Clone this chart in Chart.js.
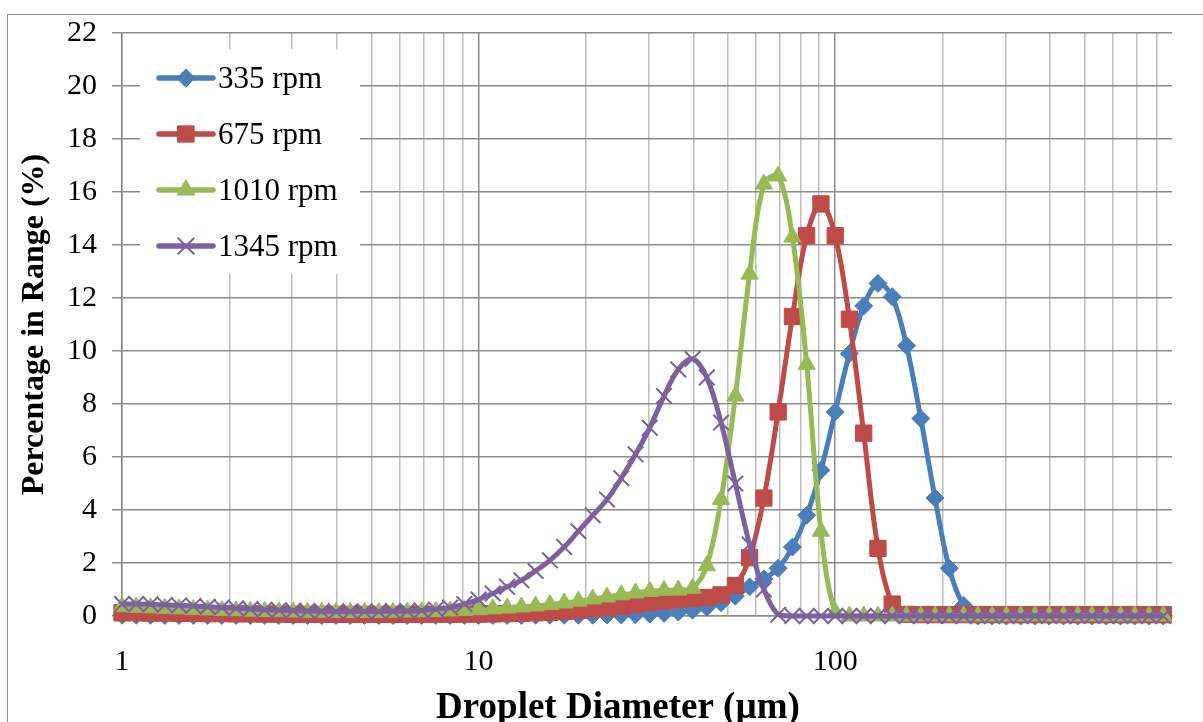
<!DOCTYPE html>
<html>
<head>
<meta charset="utf-8">
<script src="https://cdn.jsdelivr.net/npm/chart.js@4.4.1/dist/chart.umd.min.js"></script>
<style>
  html, body { margin: 0; padding: 0; background: #fff; overflow: hidden; }
  #frame { position: absolute; left: 7px; top: 14px; width: 1300px; height: 800px; border: 1.5px solid #8a8a8a; }
  #wrap { position: absolute; left: 0; top: 0; width: 1203px; height: 722px; }
</style>
</head>
<body>
<div id="frame"></div>
<div id="wrap"><canvas id="chart" width="1203" height="722"></canvas></div>
<script>
// droplet size bins (µm), log spaced
const diameters = [1.000, 1.096, 1.202, 1.318, 1.445, 1.585, 1.738, 1.905, 2.089, 2.291,
  2.512, 2.754, 3.020, 3.311, 3.631, 3.981, 4.365, 4.786, 5.248, 5.754,
  6.310, 6.918, 7.586, 8.318, 9.120, 10.00, 10.96, 12.02, 13.18, 14.45,
  15.85, 17.38, 19.05, 20.89, 22.91, 25.12, 27.54, 30.20, 33.11, 36.31,
  39.81, 43.65, 47.86, 52.48, 57.54, 63.10, 69.18, 75.86, 83.18, 91.20,
  100.0, 109.6, 120.2, 131.8, 144.5, 158.5, 173.8, 190.5, 208.9, 229.1,
  251.2, 275.4, 302.0, 331.1, 363.1, 398.1, 436.5, 478.6, 524.8, 575.4,
  631.0, 691.8, 758.6, 831.8];

const rpm335 = [0.03, 0.03, 0.03, 0.02, 0.02, 0.02, 0.02, 0.02, 0.02, 0.02,
  0.02, 0.02, 0.02, 0.02, 0.02, 0.02, 0.02, 0.02, 0.02, 0.02,
  0.02, 0.02, 0.02, 0.02, 0.02, 0.02, 0.02, 0.02, 0.02, 0.03,
  0.03, 0.03, 0.03, 0.03, 0.04, 0.04, 0.05, 0.07, 0.10, 0.15,
  0.22, 0.33, 0.50, 0.75, 1.10, 1.40, 1.80, 2.60, 3.80, 5.50,
  7.70, 9.90, 11.70, 12.55, 12.05, 10.20, 7.45, 4.45, 1.80, 0.40,
  0, 0, 0, 0, 0, 0, 0, 0, 0, 0,
  0, 0, 0, 0];

const rpm675 = [0.12, 0.12, 0.11, 0.11, 0.10, 0.10, 0.09, 0.09, 0.08, 0.08,
  0.07, 0.07, 0.06, 0.06, 0.06, 0.06, 0.06, 0.06, 0.06, 0.06,
  0.06, 0.06, 0.06, 0.06, 0.07, 0.07, 0.08, 0.09, 0.10, 0.12,
  0.14, 0.17, 0.21, 0.26, 0.31, 0.37, 0.43, 0.50, 0.56, 0.62,
  0.66, 0.70, 0.80, 1.15, 2.20, 4.45, 7.70, 11.30, 14.35, 15.55,
  14.35, 11.20, 6.90, 2.55, 0.45, 0.06, 0.05, 0.05, 0.05, 0.05,
  0.05, 0.05, 0.05, 0.05, 0.05, 0.05, 0.05, 0.05, 0.05, 0.05,
  0.05, 0.05, 0.05, 0.05];

const rpm1010 = [0.35, 0.33, 0.31, 0.29, 0.27, 0.25, 0.23, 0.21, 0.20, 0.18,
  0.17, 0.16, 0.15, 0.14, 0.14, 0.13, 0.13, 0.13, 0.13, 0.14,
  0.15, 0.16, 0.17, 0.19, 0.21, 0.24, 0.27, 0.30, 0.34, 0.38,
  0.43, 0.49, 0.56, 0.64, 0.72, 0.80, 0.87, 0.93, 0.97, 0.98,
  1.05, 1.90, 4.40, 8.30, 12.90, 16.30, 16.60, 14.30, 9.50, 3.20,
  0.15, 0, 0, 0, 0, 0, 0, 0, 0, 0,
  0, 0, 0, 0, 0, 0, 0, 0, 0, 0,
  0, 0, 0, 0];

const rpm1345 = [0.45, 0.45, 0.44, 0.42, 0.40, 0.38, 0.35, 0.32, 0.29, 0.26,
  0.24, 0.22, 0.20, 0.19, 0.18, 0.17, 0.17, 0.17, 0.17, 0.18,
  0.19, 0.21, 0.25, 0.32, 0.45, 0.62, 0.85, 1.10, 1.35, 1.70,
  2.10, 2.60, 3.20, 3.80, 4.40, 5.20, 6.10, 7.10, 8.30, 9.30,
  9.70, 9.00, 7.30, 5.00, 2.70, 1.00, 0.05, 0, 0, 0,
  0, 0, 0, 0, 0, 0, 0, 0, 0, 0,
  0, 0, 0, 0, 0, 0, 0, 0, 0, 0,
  0, 0, 0, 0];

const seriesNames = ["335 rpm", "675 rpm", "1010 rpm", "1345 rpm"];
const seriesColors = ["#4A7EBB", "#BE4B48", "#98B954", "#7D60A0"];
const seriesMarkers = ["rectRot", "rect", "triangle", "crossRot"];
const seriesRadius = [9, 11.5, 10, 11];

// x gridlines 1..9, 10..90, 100..800; labels only at decades
const xGridValues = [1, 2, 3, 4, 5, 6, 7, 8, 9, 10, 20, 30, 40, 50, 60, 70, 80, 90,
  100, 200, 300, 400, 500, 600, 700, 800];
const xLabelValues = [1, 10, 100];

const serif = "'Liberation Serif', 'Times New Roman', serif";

function toPoints(values) {
  return diameters.map((d, i) => ({ x: d, y: values[i] }));
}

const allSeries = [rpm335, rpm675, rpm1010, rpm1345];

const datasets = allSeries.map((values, i) => ({
  label: seriesNames[i],
  data: toPoints(values),
  borderColor: seriesColors[i],
  backgroundColor: seriesColors[i],
  borderWidth: 5,
  pointStyle: seriesMarkers[i],
  pointRadius: seriesRadius[i],
  pointBorderWidth: seriesMarkers[i] === "crossRot" ? 2 : 1,
  pointBorderColor: seriesColors[i],
  pointBackgroundColor: seriesColors[i],
  tension: 0.35,
  clip: false,
  order: 3 - i, // last series on top
}));

// legend drawn inside the plot on a white box
const insideLegend = {
  id: "insideLegend",
  beforeDatasetsDraw(chart) {
    const { ctx, chartArea } = chart;
    const bx = chartArea.left + 18;
    const by = chartArea.top + 16;
    ctx.save();
    ctx.fillStyle = "#ffffff";
    ctx.fillRect(bx, by, 220, 225);
    chart.data.datasets.forEach((ds, i) => {
      const y = chartArea.top + 45 + i * 56;
      const x0 = chartArea.left + 37;
      const x1 = chartArea.left + 91;
      ctx.strokeStyle = ds.borderColor;
      ctx.lineWidth = 5.5;
      ctx.lineCap = "round";
      ctx.beginPath();
      ctx.moveTo(x0, y);
      ctx.lineTo(x1, y);
      ctx.stroke();
      ctx.fillStyle = ds.backgroundColor;
      ctx.lineWidth = ds.pointBorderWidth;
      Chart.helpers.drawPoint(ctx, {
        pointStyle: ds.pointStyle,
        radius: ds.pointRadius,
        rotation: 0,
        borderWidth: ds.pointBorderWidth,
      }, (x0 + x1) / 2, y);
      ctx.fillStyle = "#000000";
      ctx.font = "31px " + serif;
      ctx.textBaseline = "middle";
      ctx.textAlign = "left";
      ctx.fillText(ds.label, chartArea.left + 96, y + 2);
    });
    ctx.restore();
  },
};

// x-axis title, centred on the whole chart frame like the original
const xAxisTitle = {
  id: "xAxisTitle",
  afterDraw(chart) {
    const { ctx } = chart;
    ctx.save();
    ctx.fillStyle = "#000000";
    ctx.font = "bold 37px " + serif;
    ctx.textAlign = "center";
    ctx.textBaseline = "alphabetic";
    ctx.fillText("Droplet Diameter (µm)", 618, 718);
    ctx.restore();
  },
};

const ctx = document.getElementById("chart");

new Chart(ctx, {
  type: "line",
  data: { datasets },
  options: {
    responsive: false,
    animation: false,
    events: [],
    layout: { padding: { top: 32, right: 31, left: 0, bottom: 0 } },
    plugins: {
      legend: { display: false },
      tooltip: { enabled: false },
    },
    scales: {
      x: {
        type: "logarithmic",
        min: 1,
        max: 880,
        afterBuildTicks(scale) {
          scale.ticks = xGridValues.map(v => ({ value: v }));
        },
        afterFit(scale) {
          scale.height = 106;
        },
        ticks: {
          autoSkip: false,
          maxRotation: 0,
          padding: 28,
          color: "#000",
          font: { family: serif, size: 30 },
          callback: (value) => xLabelValues.includes(value) ? String(value) : "",
        },
        grid: {
          drawTicks: false,
          lineWidth: 1.5,
          color: (c) => (c.tick && xLabelValues.includes(c.tick.value)) ? "#8c8c8c" : "#bdbdbd",
        },
        border: { color: "#8c8c8c", width: 1.5 },
      },
      y: {
        min: 0,
        max: 22,
        afterFit(scale) {
          scale.width = 122;
        },
        ticks: {
          stepSize: 2,
          padding: 15,
          color: "#000",
          font: { family: serif, size: 30 },
        },
        grid: {
          color: "#8c8c8c",
          lineWidth: 1.5,
          tickLength: 10,
          tickColor: "#8c8c8c",
        },
        border: { color: "#8c8c8c", width: 1.5 },
        title: {
          display: true,
          text: "Percentage in Range (%)",
          color: "#000",
          font: { family: serif, size: 32, weight: "bold", lineHeight: 1 },
          padding: { top: 19, bottom: 0 },
        },
      },
    },
  },
  plugins: [insideLegend, xAxisTitle],
});
</script>
</body>
</html>
